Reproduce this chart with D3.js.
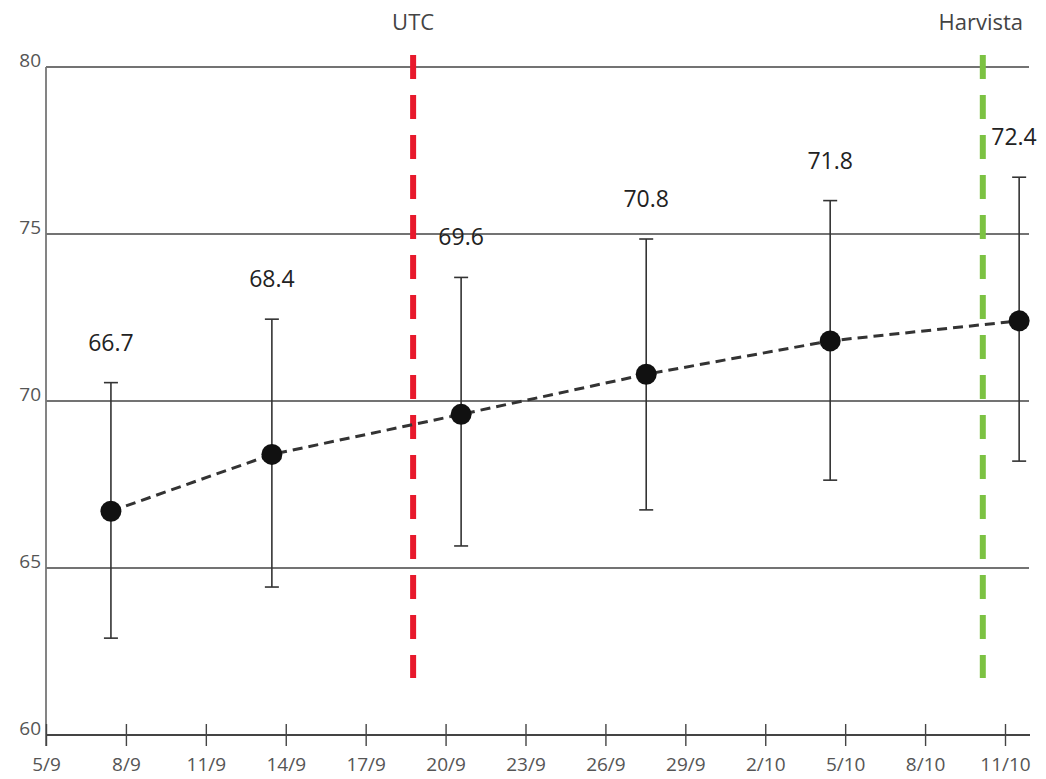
<!DOCTYPE html>
<html>
<head>
<meta charset="utf-8">
<script src="https://cdn.jsdelivr.net/npm/d3@7"></script>
<style>
  html, body { margin: 0; padding: 0; background: #fff; }
  svg { display: block; font-family: "Open Sans", "Lato", sans-serif; }
</style>
</head>
<body>
<svg id="chart" width="1046" height="779"></svg>
<script>
// ---- data ----
const tickLabels = ["5/9","8/9","11/9","14/9","17/9","20/9","23/9","26/9","29/9","2/10","5/10","8/10","11/10"];
const yTicks = [60, 65, 70, 75, 80];
const pointDates = ["2019-09-07T10:30","2019-09-13T11:30","2019-09-20T14:00","2019-09-27T12:45","2019-10-04T10:30","2019-10-11T12:45"];
const values = [66.7, 68.4, 69.6, 70.8, 71.8, 72.4];
const upper = [70.55, 72.45, 73.7, 74.85, 76.0, 76.7];
const lower = [62.9, 64.43, 65.66, 66.74, 67.63, 68.2];
const eventNames = ["UTC", "Harvista"];
const eventDates = ["2019-09-18T18:45", "2019-10-10T04:00"];
const eventColors = ["#e8192c", "#7cc242"];
const year = 2019;

// ---- setup ----
const svg = d3.select("#chart");
const parseTick = s => d3.timeParse("%d/%m/%Y")(s + "/" + year);
const parseDT = d3.isoParse;
const tickDates = tickLabels.map(parseTick);

const x = d3.scaleTime()
  .domain([tickDates[0], tickDates[tickDates.length - 1]])
  .range([46, 1005]);
const y = d3.scaleLinear().domain([60, 80]).range([735, 67]);

const data = values.map((v, i) => ({ d: parseDT(pointDates[i]), v, hi: upper[i], lo: lower[i] }));

// grid lines
svg.append("g").selectAll("line").data(yTicks.filter(t => t > 60)).join("line")
  .attr("x1", 46).attr("x2", 1029)
  .attr("y1", d => y(d)).attr("y2", d => y(d))
  .attr("stroke", "#444").attr("stroke-width", 1.6);

// y axis line
svg.append("line").attr("x1", 46).attr("x2", 46).attr("y1", y(80)).attr("y2", 746)
  .attr("stroke", "#777").attr("stroke-width", 1.8);

// y tick labels
svg.append("g").selectAll("text").data(yTicks).join("text")
  .attr("x", 41).attr("y", d => y(d))
  .attr("text-anchor", "end")
  .attr("font-size", 19).attr("fill", "#555")
  .text(d => d);

// x axis
const xAxis = d3.axisBottom(x)
  .tickValues(tickDates)
  .tickFormat((d, i) => tickLabels[i])
  .tickSize(12)
  .tickSizeOuter(0)
  .tickPadding(8);
const gx = svg.append("g").attr("transform", `translate(0,${y(60)})`).call(xAxis);
gx.select(".domain").attr("d", `M46,0H1030`).attr("stroke", "#444").attr("stroke-width", 2);
gx.selectAll(".tick line").attr("y1", -11).attr("y2", 11).attr("stroke", "#444").attr("stroke-width", 1.4);
gx.selectAll(".tick text").attr("font-size", 19).attr("fill", "#555").attr("font-family", "\"Open Sans\", sans-serif").attr("dy", "0.85em");

// event lines
eventNames.forEach((name, i) => {
  const ex = x(parseDT(eventDates[i]));
  svg.append("line")
    .attr("x1", ex).attr("x2", ex).attr("y1", 55).attr("y2", 678)
    .attr("stroke", eventColors[i]).attr("stroke-width", 6)
    .attr("stroke-dasharray", "24,16");
  svg.append("text")
    .attr("x", i === 1 ? ex - 2 : ex).attr("y", 30)
    .attr("text-anchor", "middle")
    .attr("font-size", 22).attr("fill", "#444")
    .text(name);
});

// dashed connecting line
svg.append("path").datum(data)
  .attr("d", d3.line().x(d => x(d.d)).y(d => y(d.v)))
  .attr("fill", "none").attr("stroke", "#333").attr("stroke-width", 3)
  .attr("stroke-dasharray", "10,6");

// error bars
const eb = svg.append("g").selectAll("g").data(data).join("g");
eb.append("line")
  .attr("x1", d => x(d.d)).attr("x2", d => x(d.d))
  .attr("y1", d => y(d.hi)).attr("y2", d => y(d.lo))
  .attr("stroke", "#333").attr("stroke-width", 1.6);
eb.append("line")
  .attr("x1", d => x(d.d) - 7).attr("x2", d => x(d.d) + 7)
  .attr("y1", d => y(d.hi)).attr("y2", d => y(d.hi))
  .attr("stroke", "#333").attr("stroke-width", 1.6);
eb.append("line")
  .attr("x1", d => x(d.d) - 7).attr("x2", d => x(d.d) + 7)
  .attr("y1", d => y(d.lo)).attr("y2", d => y(d.lo))
  .attr("stroke", "#333").attr("stroke-width", 1.6);

// points
svg.append("g").selectAll("circle").data(data).join("circle")
  .attr("cx", d => x(d.d)).attr("cy", d => y(d.v)).attr("r", 10.5)
  .attr("fill", "#111");

// value labels
svg.append("g").selectAll("text").data(data).join("text")
  .attr("x", (d, i) => Math.min(x(d.d), 1014))
  .attr("y", d => y(d.hi) - 32)
  .attr("text-anchor", "middle")
  .attr("font-size", 23).attr("fill", "#222")
  .text(d => d.v.toFixed(1));
</script>
</body>
</html>
